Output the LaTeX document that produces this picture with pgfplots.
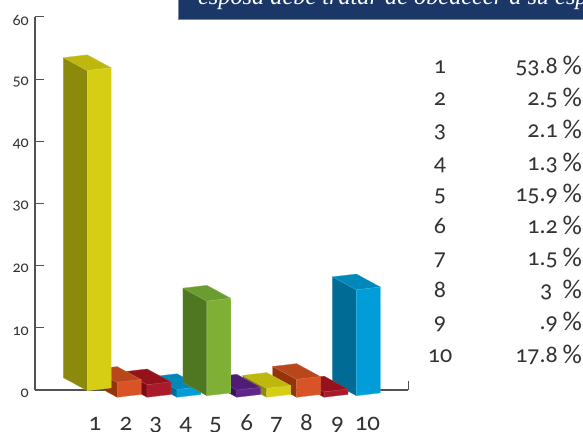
\documentclass[border=0pt]{standalone}
\usepackage{fontspec}
\setmainfont[Numbers=OldStyle]{Carlito}
\newfontfamily\banner[ItalicFont={Liberation Serif Italic}]{Liberation Serif}
\usepackage{pgfplots}
\pgfplotsset{compat=1.18}
\definecolor{yF}{HTML}{D6CE14}\definecolor{yS}{HTML}{8C8A0C}\definecolor{yT}{HTML}{BDB70E}
\definecolor{oF}{HTML}{D85326}\definecolor{oS}{HTML}{933508}\definecolor{oT}{HTML}{BA471B}
\definecolor{rF}{HTML}{AB1A2A}\definecolor{rS}{HTML}{7E0A14}\definecolor{rT}{HTML}{95121C}
\definecolor{bF}{HTML}{009DD9}\definecolor{bS}{HTML}{006C95}\definecolor{bT}{HTML}{0088BB}
\definecolor{gF}{HTML}{7FB035}\definecolor{gS}{HTML}{4F7621}\definecolor{gT}{HTML}{6A9C30}
\definecolor{pF}{HTML}{60248A}\definecolor{pS}{HTML}{3D0E62}\definecolor{pT}{HTML}{501C78}
\definecolor{navy}{HTML}{1B3768}
\definecolor{txt}{HTML}{333333}
\newcommand{\threeDbar}[4]{% position, value, base, colour prefix
  \pgfmathsetmacro\xa{#1}\pgfmathsetmacro\xb{#1+0.8}\pgfmathsetmacro\xc{#1-0.8}
  \pgfmathsetmacro\ya{#3}\pgfmathsetmacro\yb{#3+0.45}
  \pgfmathsetmacro\yt{#3+#2*0.957}\pgfmathsetmacro\yu{\yt+0.45}
  \pgfmathsetmacro\yd{\ya+2.09}\pgfmathsetmacro\ye{\yt+2.09}\pgfmathsetmacro\yf{\yu+2.09}
  \edef\temp{%
   \noexpand\addplot[fill=#4S,draw=#4S!80!white,line width=.3pt] coordinates {(\xa,\ya)(\xa,\yt)(\xc,\ye)(\xc,\yd)(\xa,\ya)};
   \noexpand\addplot[fill=#4T,draw=#4T!80!white,line width=.3pt] coordinates {(\xa,\yt)(\xb,\yu)(\xa,\yf)(\xc,\ye)(\xa,\yt)};
   \noexpand\addplot[fill=#4F,draw=#4F!80!white,line width=.3pt] coordinates {(\xa,\ya)(\xb,\yb)(\xb,\yu)(\xa,\yt)(\xa,\ya)};
  }\temp}
\begin{document}
\begin{tikzpicture}[x=1pt,y=1pt]
\useasboundingbox (0,0) rectangle (583,431);
\begin{scope}
\clip (0,0) rectangle (583,431);
\fill[navy] (178,412) rectangle (583,431);
\draw[navy!60!white,line width=.6pt] (178,431)--(178,411.7)--(583,411.7);
\node[anchor=base west,white,inner sep=0pt,font=\banner\itshape\fontsize{24.3}{24.3}\selectfont] at (198,426) {esposa debe tratar de obedecer a su esposo};
\end{scope}
\begin{axis}[
  at={(35pt,41pt)},anchor=south west,
  scale only axis,width=373pt,height=373pt,
  xmin=-0.749,xmax=11.726,ymin=0,ymax=60,
  clip=false,
  axis lines=left,
  axis line style={-,draw=txt!85!white,line width=1.2pt},
  tick style={draw=txt!85!white,line width=1pt},
  ytick={0,10,...,60},
  tick align=inside,
  major tick length=9pt,
  xtick={1.26,2.29,3.29,4.29,5.29,6.33,7.33,8.33,9.37,10.37},
  xticklabels={1,2,3,4,5,6,7,8,9,10},
  x tick style={draw=none},
  /pgf/number format/assume math mode=true,
  yticklabel style={font=\fontsize{16}{16}\selectfont,text=txt,inner sep=0pt,xshift=-6pt,yshift=-3pt},
  xticklabel style={font=\fontsize{25}{25}\selectfont,text=txt,inner sep=0pt,anchor=base,yshift=-40pt},
]
\addplot[draw=txt!85!white,line width=1pt] coordinates {(11.726,0)(11.726,1.45)};
\addplot[draw=txt!85!white,line width=1.2pt] coordinates {(-0.749,0)(-0.749,1.45)};
\threeDbar{10}{17.8}{-0.92}{b}
\threeDbar{8.92}{0.9}{-1.17}{r}
\threeDbar{8}{3}{-1.17}{o}
\threeDbar{7}{1.5}{-1.17}{y}
\threeDbar{6}{1.2}{-1.17}{p}
\threeDbar{4}{1.3}{-1.17}{b}
\threeDbar{3}{2.1}{-1.17}{r}
\threeDbar{2}{2.5}{-1.17}{o}
\threeDbar{1}{53.8}{-0.11}{y}
\threeDbar{5}{15.9}{-0.92}{g}
\end{axis}
\begin{scope}[every node/.style={text=txt,inner sep=0pt,font=\fontsize{24}{24}\selectfont}]
\foreach \n/\v/\y in {1/53.8/67,2/2.5/99,3/2.1/131,4/1.3/164,5/15.9/195,6/1.2/227,7/1.5/259,8/3\ \ /291,9/.9/323,10/17.8/355}{
  \node[anchor=base] at (440,431-\y-7) {\n};
  \node[anchor=base east] at (558,431-\y-7) {\v};
  \node[anchor=base east] at (582,431-\y-8) {\fontsize{27}{27}\selectfont\%};
}
\end{scope}
\end{tikzpicture}
\end{document}
